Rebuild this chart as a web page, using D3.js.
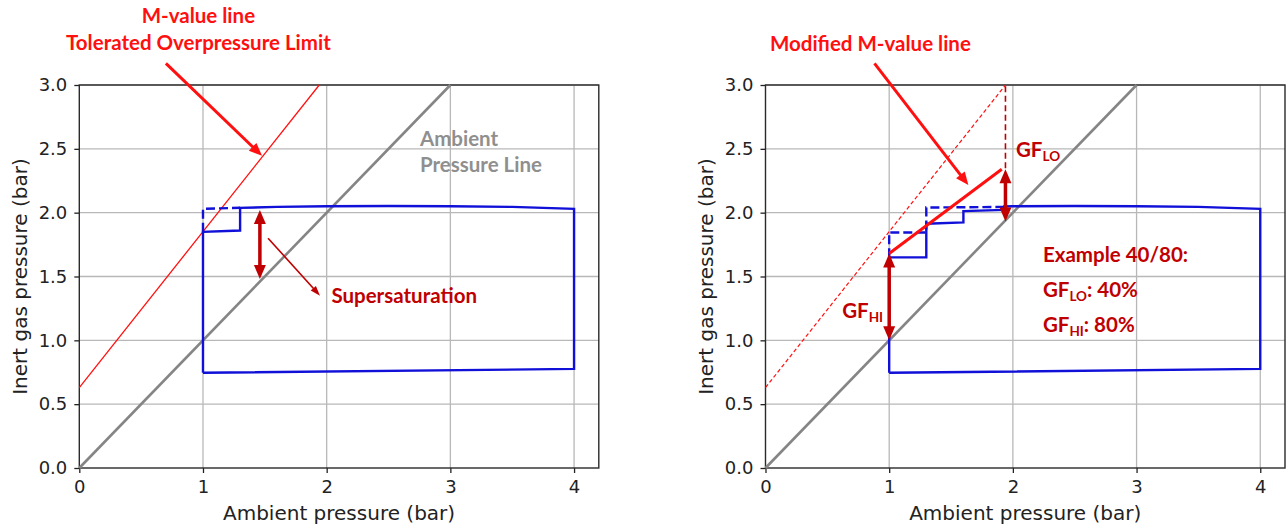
<!DOCTYPE html>
<html>
<head>
<meta charset="utf-8">
<script src="https://cdn.jsdelivr.net/npm/d3@7"></script>
<style>
  html, body { margin: 0; padding: 0; background: #fff; }
  svg { display: block; }
  .tick text { font-family: "DejaVu Sans", sans-serif; font-size: 18px; fill: #222; }
  .axis-title { font-family: "DejaVu Sans", sans-serif; font-size: 20px; fill: #222; }
  .note { font-family: "Lato", "Open Sans", sans-serif; font-weight: 700; font-size: 20.5px; }
</style>
</head>
<body>
<svg id="chart" width="1287" height="524"></svg>
<script>
// ---------------- data ----------------
const xTicks = [0, 1, 2, 3, 4];
const yTicks = [0, 0.5, 1.0, 1.5, 2.0, 2.5, 3.0];
const xDomain = [0, 4.2];
const yDomain = [0, 3.0];

// ambient pressure line (inert gas = ambient)
const ambientX = [0, 3];
const ambientY = [0, 3];

// M-value line (tolerated overpressure limit)
const mValueX = [0, 1.94];
const mValueY = [0.63, 3.0];

// left panel: dive profile (solid = with stop, dashed = direct)
const leftProfileX = [1.0, 4.0, 4.0, 3.5, 3.0, 2.5, 2.0, 1.6, 1.3, 1.3, 1.0, 1.0];
const leftProfileY = [0.746, 0.776, 2.03, 2.045, 2.05, 2.052, 2.05, 2.045, 2.038, 1.86, 1.85, 0.746];
const leftDashedX = [1.0, 1.0, 1.3];
const leftDashedY = [1.85, 2.03, 2.038];

// right panel: dive profile with gradient-factor stops
const rightProfileX = [1.0, 4.0, 4.0, 3.5, 3.0, 2.5, 2.0, 1.93, 1.93, 1.6, 1.6, 1.3, 1.3, 1.0, 1.0];
const rightProfileY = [0.746, 0.776, 2.03, 2.045, 2.05, 2.052, 2.05, 2.048, 2.022, 2.012, 1.924, 1.913, 1.65, 1.65, 0.746];
const rightDashedX = [1.0, 1.0, 1.3, 1.3, 1.93];
const rightDashedY = [1.65, 1.845, 1.845, 2.04, 2.045];

// modified M-value line (gradient factors 40/80)
const modMValueX = [1.0, 1.91];
const modMValueY = [1.68, 2.34];
const gfLoGuideX = [1.94, 1.94];
const gfLoGuideY = [2.99, 2.34];

// double-headed arrows [x, yTop, yBottom]
const supersatArrow = [1.46, 2.02, 1.48];
const gfHiArrow = [1.0, 1.68, 1.0];
const gfLoArrow = [1.94, 2.34, 1.93];

// pointer arrows [xFrom, yFrom, xTo, yTo]
const mValuePointer = [0.70, 3.17, 1.477, 2.445];
const supersatPointer = [1.526, 1.80, 1.946, 1.35];
const modMPointer = [0.881, 3.17, 1.64, 2.216];

// labels
const xTitle = "Ambient pressure (bar)";
const yTitle = "Inert gas pressure (bar)";

// ---------------- drawing ----------------
const svg = d3.select("#chart");
const zip = (xs, ys) => xs.map((x, i) => [x, ys[i]]);

const panels = [
  { left: 79.3, right: 598.8, top: 85, bottom: 468, yTitleX: 27 },
  { left: 765.5, right: 1285, top: 85, bottom: 468, yTitleX: 713 }
];

function makePanel(p) {
  const x = d3.scaleLinear().domain(xDomain).range([p.left, p.right]);
  const y = d3.scaleLinear().domain(yDomain).range([p.bottom, p.top]);
  const g = svg.append("g");

  // grid
  g.append("g").selectAll("line").data(xTicks.filter(d => d > 0)).join("line")
    .attr("x1", d => x(d)).attr("x2", d => x(d))
    .attr("y1", y(yDomain[0])).attr("y2", y(yDomain[1]))
    .attr("stroke", "#b8b8b8").attr("stroke-width", 1.3);
  g.append("g").selectAll("line").data(yTicks.filter(d => d > 0)).join("line")
    .attr("x1", x(xDomain[0])).attr("x2", x(xDomain[1]))
    .attr("y1", d => y(d)).attr("y2", d => y(d))
    .attr("stroke", "#b8b8b8").attr("stroke-width", 1.3);

  // axes
  const xa = g.append("g").attr("transform", `translate(0,${p.bottom})`)
    .call(d3.axisBottom(x).tickValues(xTicks).tickFormat(d3.format("d")).tickSize(5).tickPadding(7).tickSizeOuter(0));
  const ya = g.append("g").attr("transform", `translate(${p.left},0)`)
    .call(d3.axisLeft(y).tickValues(yTicks).tickFormat(d3.format(".1f")).tickSize(5).tickPadding(7).tickSizeOuter(0));
  [xa, ya].forEach(a => {
    a.select(".domain").remove();
    a.selectAll(".tick line").attr("stroke", "#222").attr("stroke-width", 1.3);
  });

  // frame
  g.append("rect").attr("x", p.left).attr("y", p.top)
    .attr("width", p.right - p.left).attr("height", p.bottom - p.top)
    .attr("fill", "none").attr("stroke", "#2a2a2a").attr("stroke-width", 1.4);

  // titles
  g.append("text").attr("class", "axis-title")
    .attr("x", (p.left + p.right) / 2).attr("y", 520)
    .attr("text-anchor", "middle").text(xTitle);
  g.append("text").attr("class", "axis-title")
    .attr("transform", `translate(${p.yTitleX},${(p.top + p.bottom) / 2}) rotate(-90)`)
    .attr("text-anchor", "middle").text(yTitle);

  return { g, x, y };
}

const line = (x, y) => d3.line().x(d => x(d[0])).y(d => y(d[1]));

function drawPath(ctx, pts, stroke, width, dash) {
  const path = ctx.g.append("path").datum(pts)
    .attr("d", line(ctx.x, ctx.y))
    .attr("fill", "none").attr("stroke", stroke).attr("stroke-width", width)
    .attr("stroke-linejoin", "miter");
  if (dash) path.attr("stroke-dasharray", dash);
  return path;
}

function arrowHead(g, tip, dir, len, wid, color) {
  const [ux, uy] = dir;
  const bx = tip[0] - ux * len, by = tip[1] - uy * len;
  const px = -uy, py = ux;
  g.append("path")
    .attr("d", `M${tip[0]},${tip[1]} L${bx + px * wid / 2},${by + py * wid / 2} L${bx - px * wid / 2},${by - py * wid / 2} Z`)
    .attr("fill", color);
}

function arrow(ctx, x0, y0, x1, y1, color, width, len, wid, both) {
  const a = [ctx.x(x0), ctx.y(y0)], b = [ctx.x(x1), ctx.y(y1)];
  const L = Math.hypot(b[0] - a[0], b[1] - a[1]);
  const u = [(b[0] - a[0]) / L, (b[1] - a[1]) / L];
  const s = both ? [a[0] + u[0] * (len - 1), a[1] + u[1] * (len - 1)] : a;
  const e = [b[0] - u[0] * (len - 1), b[1] - u[1] * (len - 1)];
  ctx.g.append("line").attr("x1", s[0]).attr("y1", s[1]).attr("x2", e[0]).attr("y2", e[1])
    .attr("stroke", color).attr("stroke-width", width);
  arrowHead(ctx.g, b, u, len, wid, color);
  if (both) arrowHead(ctx.g, a, [-u[0], -u[1]], len, wid, color);
}

function note(ctx, xv, yv, color, parts, anchor) {
  const t = ctx.g.append("text").attr("class", "note")
    .attr("x", ctx.x(xv)).attr("y", ctx.y(yv)).attr("fill", color)
    .attr("text-anchor", anchor || "start");
  parts.forEach(([txt, sub]) => {
    if (sub) {
      t.append("tspan").attr("font-size", "13.5px").attr("dy", 4).text(txt);
    } else {
      const ts = t.append("tspan").text(txt);
      if (t.selectAll("tspan").size() > 1) ts.attr("dy", -4);
    }
  });
  return t;
}

const RED = "#ff1010", DARK = "#c00000", BLUE = "#1010d8", GRAY = "#858585";

// ---------- left panel ----------
const L = makePanel(panels[0]);
drawPath(L, zip(mValueX, mValueY), RED, 1.3);
drawPath(L, zip(ambientX, ambientY), GRAY, 2.6);
drawPath(L, zip(leftDashedX, leftDashedY), BLUE, 2.4, "9,4");
drawPath(L, zip(leftProfileX, leftProfileY), BLUE, 2.4);
arrow(L, supersatArrow[0], supersatArrow[1], supersatArrow[0], supersatArrow[2], DARK, 3.5, 14, 12, true);
arrow(L, ...supersatPointer, DARK, 1.6, 10, 7, false);
arrow(L, ...mValuePointer, RED, 3, 13, 11, false);
note(L, 0.963, 3.485, RED, [["M-value line"]], "middle");
note(L, 0.963, 3.273, RED, [["Tolerated Overpressure Limit"]], "middle");
note(L, 2.754, 2.524, "#8f8f8f", [["Ambient"]]);
note(L, 2.754, 2.32, "#8f8f8f", [["Pressure Line"]]);
note(L, 2.038, 1.292, DARK, [["Supersaturation"]]);

// ---------- right panel ----------
const R = makePanel(panels[1]);
drawPath(R, zip(mValueX, mValueY), RED, 1.2, "4,2.5");
drawPath(R, zip(ambientX, ambientY), GRAY, 2.6);
drawPath(R, zip(gfLoGuideX, gfLoGuideY), DARK, 1.6, "6,3.5");
drawPath(R, zip(rightDashedX, rightDashedY), BLUE, 2.4, "9,4");
drawPath(R, zip(rightProfileX, rightProfileY), BLUE, 2.4);
drawPath(R, zip(modMValueX, modMValueY), RED, 3);
arrow(R, gfHiArrow[0], gfHiArrow[1], gfHiArrow[0], gfHiArrow[2], DARK, 3.5, 14, 12, true);
arrow(R, gfLoArrow[0], gfLoArrow[1], gfLoArrow[0], gfLoArrow[2], DARK, 3.5, 14, 12, true);
arrow(R, ...modMPointer, RED, 3, 13, 11, false);
note(R, 0.036, 3.268, RED, [["Modified M-value line"]]);
note(R, 2.025, 2.438, DARK, [["GF"], ["LO", true]]);
note(R, 0.62, 1.175, DARK, [["GF"], ["HI", true]]);
note(R, 2.243, 1.615, DARK, [["Example 40/80:"]]);
note(R, 2.243, 1.341, DARK, [["GF"], ["LO", true], [": 40%"]]);
note(R, 2.243, 1.067, DARK, [["GF"], ["HI", true], [": 80%"]]);
</script>
</body>
</html>
